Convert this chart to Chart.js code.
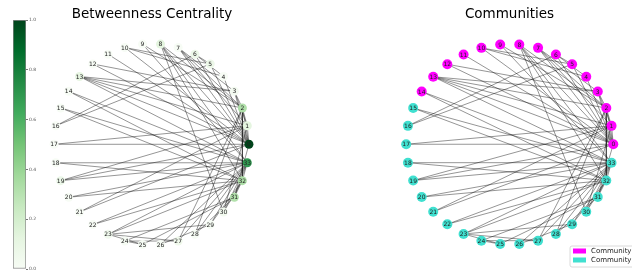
<!DOCTYPE html>
<html>
<head>
<meta charset="utf-8">
<script src="https://cdn.jsdelivr.net/npm/chart.js@4"></script>
<style>
  html, body { margin: 0; padding: 0; background: #fff; }
  #wrap { position: relative; width: 632px; height: 276px; overflow: hidden; }
  canvas { position: absolute; top: 0; }
</style>
</head>
<body>
<div id="wrap">
  <canvas id="cbar" width="38" height="276" style="left:0"></canvas>
  <canvas id="bcChart" width="224" height="276" style="left:40px"></canvas>
  <canvas id="commChart" width="243" height="276" style="left:389px"></canvas>
</div>
<script>
// Zachary karate club, 34 members
const nodeIds = Array.from({ length: 34 }, (_, i) => i);

const edges = [
  [0, 1], [0, 2], [0, 3], [0, 4], [0, 5], [0, 6], [0, 7], [0, 8], [0, 10], [0, 11],
  [0, 12], [0, 13], [0, 17], [0, 19], [0, 21], [0, 31],
  [1, 2], [1, 3], [1, 7], [1, 13], [1, 17], [1, 19], [1, 21], [1, 30],
  [2, 3], [2, 7], [2, 8], [2, 9], [2, 13], [2, 27], [2, 28], [2, 32],
  [3, 7], [3, 12], [3, 13],
  [4, 6], [4, 10],
  [5, 6], [5, 10], [5, 16],
  [6, 16],
  [8, 30], [8, 32], [8, 33],
  [9, 33], [13, 33], [14, 32], [14, 33], [15, 32], [15, 33],
  [18, 32], [18, 33], [19, 33], [20, 32], [20, 33], [22, 32], [22, 33],
  [23, 25], [23, 27], [23, 29], [23, 32], [23, 33],
  [24, 25], [24, 27], [24, 31], [25, 31],
  [26, 29], [26, 33], [27, 33], [28, 31], [28, 33],
  [29, 32], [29, 33], [30, 32], [30, 33], [31, 32], [31, 33], [32, 33]
];

// betweenness centrality per node (shown relative to the largest)
const betweenness = [
  0.4376, 0.0539, 0.1437, 0.0119, 0.0006, 0.0300, 0.0300, 0.0000, 0.0559, 0.0008,
  0.0006, 0.0000, 0.0000, 0.0459, 0.0000, 0.0000, 0.0000, 0.0000, 0.0000, 0.0325,
  0.0000, 0.0000, 0.0000, 0.0176, 0.0022, 0.0038, 0.0000, 0.0223, 0.0018, 0.0029,
  0.0144, 0.1383, 0.1452, 0.3041
];

// community of each node
const community = [
  1, 1, 1, 1, 1, 1, 1, 1, 1, 1, 1, 1, 1, 1, 1,
  2, 2, 2, 2, 2, 2, 2, 2, 2, 2, 2, 2, 2, 2, 2, 2, 2, 2, 2
];
const communityNames = ['Community 1', 'Community 2'];
const communityColors = ['#ff00ff', '#40e0d0'];

const colorbarTicks = [0, 0.2, 0.4, 0.6, 0.8, 1.0];

// matplotlib "Greens"
const GREENS = ['#f7fcf5', '#e5f5e0', '#c7e9c0', '#a1d99b', '#74c476',
                '#41ab5d', '#238b45', '#006d2c', '#00441b'];

function hexToRgb(h) {
  return [1, 3, 5].map(i => parseInt(h.slice(i, i + 2), 16));
}

function greens(v) {
  v = Math.max(0, Math.min(1, v));
  const pos = v * (GREENS.length - 1);
  const i = Math.min(Math.floor(pos), GREENS.length - 2);
  const t = pos - i;
  const a = hexToRgb(GREENS[i]);
  const b = hexToRgb(GREENS[i + 1]);
  const c = a.map((x, k) => Math.round(x + (b[k] - x) * t));
  return `rgb(${c[0]}, ${c[1]}, ${c[2]})`;
}

// circular layout, node 0 at the right, going counter-clockwise
const layout = nodeIds.map(i => {
  const th = 2 * Math.PI * i / nodeIds.length;
  return { x: Math.cos(th), y: Math.sin(th) };
});

const maxBc = Math.max(...betweenness);
const bcColors = betweenness.map(b => greens(b / maxBc));
const commColors = community.map(c => communityColors[c - 1]);

// node number labels
const nodeLabels = {
  id: 'nodeLabels',
  afterDatasetsDraw(chart) {
    const ctx = chart.ctx;
    const meta = chart.getDatasetMeta(0);
    ctx.save();
    ctx.font = '6px "DejaVu Sans"';
    ctx.fillStyle = '#222';
    ctx.textAlign = 'center';
    ctx.textBaseline = 'middle';
    meta.data.forEach((el, i) => {
      ctx.fillText(String(nodeIds[i]), el.x, el.y + 0.5);
    });
    ctx.restore();
  }
};

// plot title, drawn over the top of the plot area
const plotTitle = {
  id: 'plotTitle',
  afterDraw(chart, args, opts) {
    const ctx = chart.ctx;
    ctx.save();
    ctx.font = '13.5px "DejaVu Sans"';
    ctx.fillStyle = '#000';
    ctx.textAlign = 'center';
    ctx.textBaseline = 'alphabetic';
    ctx.fillText(opts.text, chart.width / 2 + (opts.dx || 0), 18);
    ctx.restore();
  }
};

// small legend box at the bottom right of the communities plot
const communityLegend = {
  id: 'communityLegend',
  afterDraw(chart) {
    const ctx = chart.ctx;
    const x0 = 181, y0 = 246;
    ctx.save();
    ctx.fillStyle = 'rgba(255,255,255,0.8)';
    ctx.strokeStyle = '#d0d0d0';
    ctx.lineWidth = 0.8;
    ctx.beginPath();
    ctx.roundRect(x0, y0, 80, 21, 2);
    ctx.fill();
    ctx.stroke();
    ctx.font = '7px "DejaVu Sans"';
    ctx.textBaseline = 'middle';
    communityNames.forEach((name, k) => {
      const y = y0 + 5 + k * 9;
      ctx.fillStyle = communityColors[k];
      ctx.fillRect(x0 + 3, y - 2.5, 13, 5);
      ctx.fillStyle = '#222';
      ctx.fillText(name, x0 + 21, y + 0.5);
    });
    ctx.restore();
  }
};

function createGraphChart(canvasId, title, titleDx, nodeColors, radius, xMin, xMax, extraPlugins) {
  const datasets = [{
    label: 'nodes',
    data: layout,
    pointRadius: radius,
    pointBackgroundColor: nodeColors,
    pointBorderWidth: 0,
    showLine: false
  }];
  edges.forEach(([a, b]) => {
    datasets.push({
      data: [layout[a], layout[b]],
      showLine: true,
      pointRadius: 0,
      borderColor: 'rgba(0, 0, 0, 0.6)',
      borderWidth: 0.7
    });
  });

  const ctx = document.getElementById(canvasId).getContext('2d');
  return new Chart(ctx, {
    type: 'scatter',
    data: { datasets: datasets },
    options: {
      responsive: false,
      animation: false,
      layout: { padding: 0 },
      plugins: {
        legend: { display: false },
        tooltip: { enabled: false },
        title: { display: false },
        plotTitle: { text: title, dx: titleDx }
      },
      scales: {
        // full canvas height: node centre row sits at y = 144.5px, 104px per unit
        x: { type: 'linear', min: xMin, max: xMax, display: false },
        y: { type: 'linear', min: -1.2644, max: 1.3894, display: false }
      }
    },
    plugins: [nodeLabels, plotTitle].concat(extraPlugins)
  });
}

createGraphChart('bcChart', 'Betweenness Centrality', 0, bcColors, 4.5, -1.0985, 1.1084, []);
createGraphChart('commChart', 'Communities', -1, commColors, 5, -1.1176, 1.1324, [communityLegend]);

// colorbar
new Chart(document.getElementById('cbar').getContext('2d'), {
  type: 'bar',
  data: {
    labels: [''],
    datasets: [{
      data: [1],
      backgroundColor: c => {
        const area = c.chart.chartArea;
        if (!area) return GREENS[4];
        const g = c.chart.ctx.createLinearGradient(0, area.bottom, 0, area.top);
        GREENS.forEach((col, i) => g.addColorStop(i / (GREENS.length - 1), col));
        return g;
      },
      borderColor: '#888',
      borderWidth: 1,
      borderSkipped: false,
      categoryPercentage: 1,
      barPercentage: 1
    }]
  },
  options: {
    responsive: false,
    animation: false,
    layout: { padding: { left: 13, top: 20, bottom: 7, right: 0 } },
    plugins: { legend: { display: false }, tooltip: { enabled: false } },
    scales: {
      x: { display: false },
      y: {
        position: 'right',
        min: 0,
        max: 1,
        afterBuildTicks: s => { s.ticks = colorbarTicks.map(v => ({ value: v })); },
        afterFit: s => { s.width = 12; },
        ticks: {
          font: { family: '"DejaVu Sans"', size: 4.5 },
          color: '#555',
          padding: 1,
          callback: v => v.toFixed(1)
        },
        grid: { drawOnChartArea: false, tickLength: 2, color: '#777' },
        border: { display: false }
      }
    }
  }
});
</script>
</body>
</html>
